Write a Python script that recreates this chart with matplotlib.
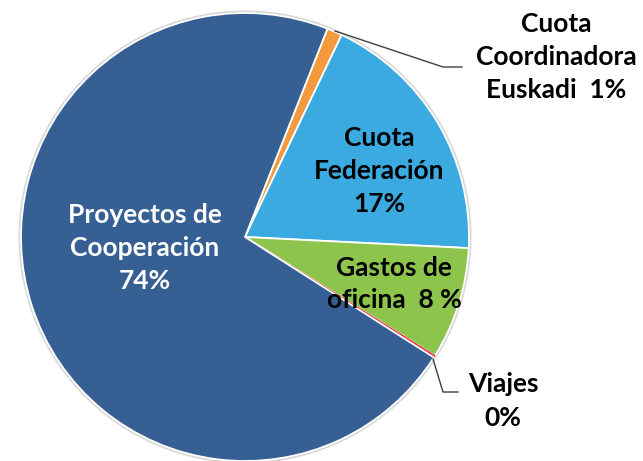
import matplotlib
matplotlib.use('Agg')
import matplotlib.pyplot as plt
from matplotlib.patches import Circle

# Shares as drawn (wedge sizes) and the printed labels
categories = ['Cuota Coordinadora Euskadi', 'Cuota Federación', 'Gastos de oficina',
              'Viajes', 'Proyectos de Cooperación']
shares = [1.1, 18.7, 8.1, 0.15, 72.0]
labels = ['Cuota\nCoordinadora\nEuskadi  1%', 'Cuota\nFederación\n17%',
          'Gastos de\noficina  8 %', 'Viajes\n0%', 'Proyectos de\nCooperación\n74%']
colors = ['#F39A3E', '#3AAAE1', '#8CC44C', '#E8343B', '#365F94']

plt.rcParams['font.family'] = ['Lato', 'DejaVu Sans']

W, H = 643, 461
fig = plt.figure(figsize=(W / 100, H / 100), dpi=100)
ax = fig.add_axes([0, 0, 1, 1])

cx, cy, r = 245, H - 237, 224

# faint grey rim around the pie
ax.add_patch(Circle((cx, cy), r + 2.5, facecolor='#d8d8d8', edgecolor='none', zorder=0))

wedges, _ = ax.pie(shares, colors=colors, startangle=68.4, counterclock=False,
                   center=(cx, cy), radius=r, frame=True,
                   wedgeprops=dict(edgecolor='white', linewidth=1.3))
wedges[3].set_edgecolor(colors[3])
wedges[3].set_linewidth(0.8)
ax.set_xlim(0, W)
ax.set_ylim(0, H)
ax.set_aspect('equal')
ax.axis('off')

fs = 19
ls = 1.45
# labels inside
ax.text(145, H - 248, labels[4], color='white', fontsize=fs, fontweight='bold',
        ha='center', va='center', linespacing=ls)
ax.text(379, H - 171, labels[1], color='black', fontsize=fs, fontweight='bold',
        ha='center', va='center', linespacing=ls)
ax.text(394, H - 284, labels[2], color='black', fontsize=fs, fontweight='bold',
        ha='center', va='center', linespacing=ls)
# outside labels with leader lines
ax.text(556, H - 57, labels[0], color='black', fontsize=fs, fontweight='bold',
        ha='center', va='center', linespacing=ls)
ax.text(503, H - 401, labels[3], color='black', fontsize=fs, fontweight='bold',
        ha='center', va='center', linespacing=ls)
ax.plot([335, 443, 462], [H - 31, H - 67, H - 67], color='#404040', lw=1.0)
ax.plot([433, 443, 458], [H - 359, H - 392, H - 392], color='#404040', lw=1.0)

fig.savefig('out.png', dpi=100, facecolor='white')
